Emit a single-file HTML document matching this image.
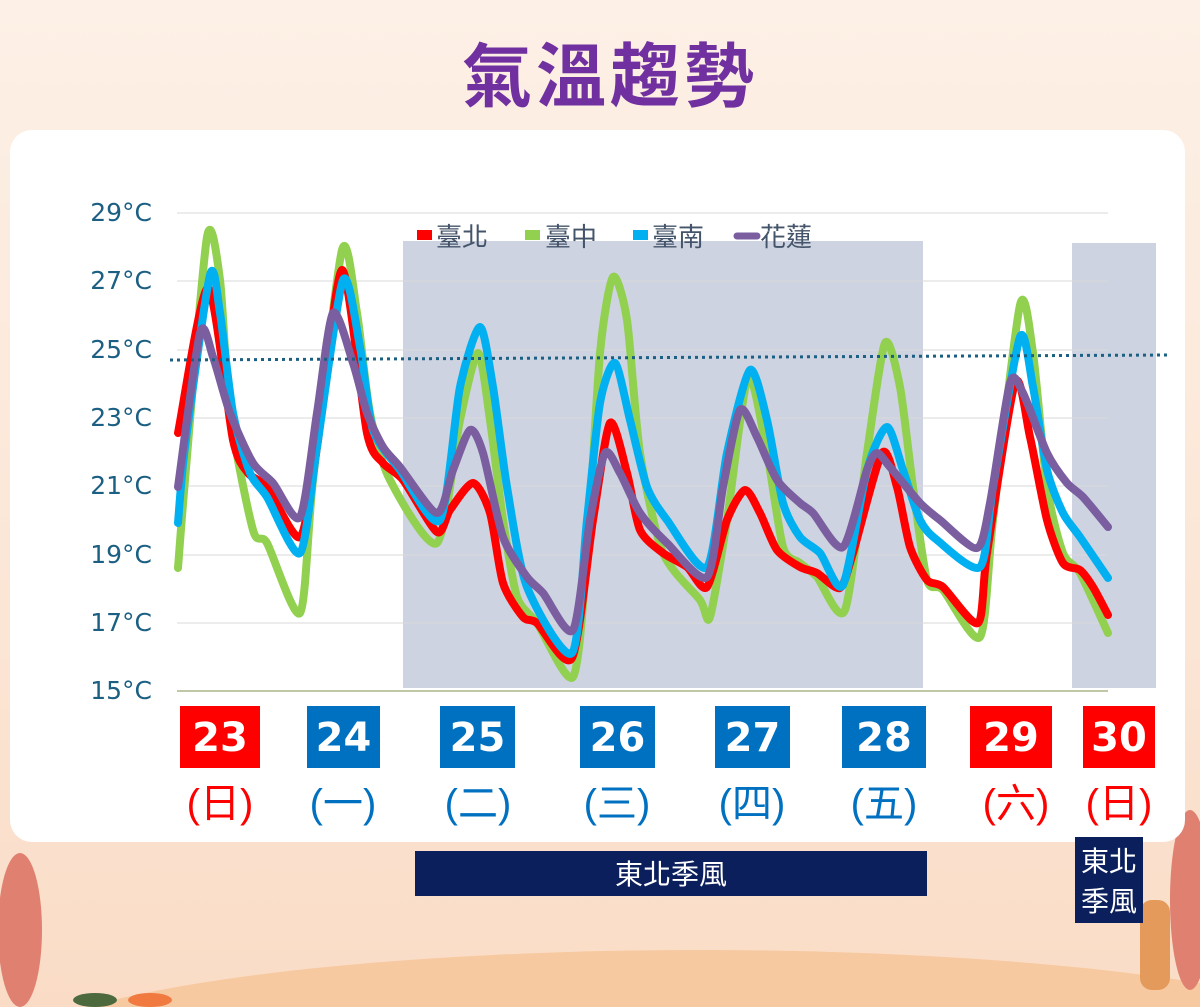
<!DOCTYPE html>
<html><head><meta charset="utf-8">
<style>
html,body{margin:0;padding:0;width:1200px;height:1007px;overflow:hidden}
body{position:relative;font-family:"Liberation Sans","Noto Sans CJK TC",sans-serif;background:linear-gradient(#fdf0e6 0%,#fbe6d6 60%,#fadcc6 100%)}
.card{position:absolute;left:10px;top:130px;width:1175px;height:712px;background:#fff;border-radius:22px}
.title{position:absolute;left:0;width:1220px;top:22px;text-align:center;font-size:70px;font-weight:bold;color:#7030a0;letter-spacing:4px;font-family:"Noto Sans CJK TC",sans-serif;line-height:100px}
.ylab{position:absolute;left:60px;width:92px;text-align:right;font-size:25px;color:#1b5f82;font-family:"DejaVu Sans",sans-serif;line-height:30px}
.day{position:absolute;top:706px;height:62px;color:#fff;font-weight:bold;font-size:40px;text-align:center;line-height:64px;font-family:"DejaVu Sans",sans-serif}
.wd{position:absolute;top:776px;font-size:40px;line-height:56px;text-align:center;font-family:"Liberation Sans","Noto Sans CJK TC",sans-serif}
.r{background:#ff0000}.b{background:#0070c0}
.rc{color:#ff0000}.bc{color:#0070c0}
.mon{position:absolute;background:#0b1f5c;color:#fff;font-size:28px;text-align:center;font-family:"Noto Sans CJK TC",sans-serif;overflow:hidden}
</style></head><body>
<svg width="1200" height="1007" style="position:absolute;left:0;top:0">
<ellipse cx="700" cy="1060" rx="700" ry="110" fill="#f7c9a0"/>
<ellipse cx="20" cy="930" rx="22" ry="77" fill="#e08070"/>
<rect x="1140" y="900" width="30" height="90" rx="12" fill="#e49a5a"/>
<ellipse cx="1190" cy="900" rx="20" ry="90" fill="#e08070"/>
<ellipse cx="95" cy="1000" rx="22" ry="7" fill="#4d6a3e"/>
<ellipse cx="150" cy="1000" rx="22" ry="7" fill="#f07a40"/>
</svg>
<div class="title">氣溫趨勢</div>
<div class="card"></div>
<svg width="1200" height="1007" style="position:absolute;left:0;top:0">
<rect x="403" y="241" width="520" height="447" fill="#cdd3e0"/>
<rect x="1072" y="243" width="84" height="445" fill="#cdd3e0"/>
<g stroke="#d9d9d9" stroke-width="1">
<line x1="177" y1="213" x2="1108" y2="213"/><line x1="177" y1="281" x2="1108" y2="281"/>
<line x1="177" y1="350" x2="1108" y2="350"/><line x1="177" y1="418" x2="1108" y2="418"/>
<line x1="177" y1="486" x2="1108" y2="486"/><line x1="177" y1="555" x2="1108" y2="555"/>
<line x1="177" y1="623" x2="1108" y2="623"/>
</g>
<line x1="177" y1="691" x2="1108" y2="691" stroke="#a9b58a" stroke-width="1.5"/>
<g id="series" fill="none" stroke-width="8" stroke-linejoin="round" stroke-linecap="round"></g>
<line x1="170" y1="360" x2="1167" y2="355" stroke="#1b5f82" stroke-width="3" stroke-dasharray="3,4"/>
<rect x="417" y="230" width="15" height="10" fill="#ff0000"/>
<rect x="525" y="230" width="15" height="10" fill="#92d050"/>
<rect x="633" y="230" width="15" height="10" fill="#00b0f0"/>
<line x1="737" y1="236" x2="757" y2="236" stroke="#7a5ea0" stroke-width="7" stroke-linecap="round"/>
<g font-size="26" fill="#44546a" font-family="Noto Sans CJK TC,sans-serif">
<text x="436" y="246">臺北</text><text x="545" y="246">臺中</text><text x="652" y="246">臺南</text><text x="760" y="246">花蓮</text>
</g>
</svg>
<div class="ylab" style="top:198px">29°C</div>
<div class="ylab" style="top:266px">27°C</div>
<div class="ylab" style="top:335px">25°C</div>
<div class="ylab" style="top:403px">23°C</div>
<div class="ylab" style="top:471px">21°C</div>
<div class="ylab" style="top:540px">19°C</div>
<div class="ylab" style="top:608px">17°C</div>
<div class="ylab" style="top:676px">15°C</div>
<div class="day r" style="left:180px;width:80px">23</div>
<div class="day b" style="left:307px;width:73px">24</div>
<div class="day b" style="left:440px;width:75px">25</div>
<div class="day b" style="left:580px;width:75px">26</div>
<div class="day b" style="left:715px;width:75px">27</div>
<div class="day b" style="left:842px;width:84px">28</div>
<div class="day r" style="left:970px;width:82px">29</div>
<div class="day r" style="left:1083px;width:72px">30</div>
<div class="wd rc" style="left:160px;width:120px">(日)</div>
<div class="wd bc" style="left:283px;width:120px">(一)</div>
<div class="wd bc" style="left:418px;width:120px">(二)</div>
<div class="wd bc" style="left:557px;width:120px">(三)</div>
<div class="wd bc" style="left:692px;width:120px">(四)</div>
<div class="wd bc" style="left:824px;width:120px">(五)</div>
<div class="wd rc" style="left:956px;width:120px">(六)</div>
<div class="wd rc" style="left:1059px;width:120px">(日)</div>
<div class="mon" style="left:415px;top:851px;width:512px;height:45px;line-height:45px">東北季風</div>
<div class="mon" style="left:1075px;top:837px;width:68px;height:86px;line-height:40px;padding-top:3px;box-sizing:border-box">東北<br>季風</div>
<script>
var S=[
["#92d050",[[178,568],[185,480],[207,237],[220,280],[230,413],[253,530],[267,543],[300,613],[313,480],[342,250],[357,313],[370,413],[390,480],[437,543],[460,420],[478,353],[490,420],[503,520],[517,597],[537,623],[573,677],[587,553],[600,353],[613,277],[627,320],[640,453],[663,553],[700,600],[710,617],[727,520],[748,377],[767,453],[783,547],[800,563],[817,577],[845,610],[867,453],[885,343],[900,387],[913,487],[927,580],[943,590],[980,637],[993,520],[1020,305],[1033,353],[1047,487],[1063,553],[1080,573],[1108,633]]],
["#ff0000",[[178,433],[208,288],[233,440],[248,473],[267,487],[300,537],[317,447],[342,270],[367,433],[383,463],[403,480],[437,532],[450,510],[473,483],[490,513],[503,583],[523,617],[537,623],[572,658],[593,520],[610,423],[627,473],[640,530],[663,553],[687,567],[707,587],[727,520],[745,490],[760,513],[777,550],[800,567],[817,573],[840,588],[853,553],[882,453],[897,487],[910,547],[927,580],[943,587],[978,623],[987,553],[1015,383],[1030,437],[1047,520],[1063,563],[1080,570],[1093,587],[1108,615]]],
["#00b0f0",[[178,523],[185,447],[210,275],[220,313],[233,413],[250,473],[267,497],[300,553],[317,447],[343,280],[360,347],[373,430],[400,470],[440,520],[460,387],[480,327],[493,387],[507,487],[527,587],[572,653],[587,520],[600,403],[615,363],[630,420],[647,487],[667,520],[707,567],[727,453],[750,370],[767,420],[783,503],[800,537],[820,553],[843,585],[867,470],[887,427],[903,470],[920,520],[937,540],[980,567],[993,487],[1020,337],[1033,387],[1047,470],[1063,513],[1080,537],[1108,578]]],
["#7a5ea0",[[178,487],[200,333],[213,357],[230,413],[253,463],[273,483],[300,517],[317,413],[333,313],[353,363],[367,413],[383,447],[400,467],[437,513],[453,470],[470,430],[483,453],[503,537],[527,577],[543,593],[573,630],[590,520],[605,453],[620,473],[640,513],[667,543],[707,577],[723,487],[740,410],[757,437],[777,480],[800,503],[813,513],[843,547],[867,470],[877,453],[890,467],[920,503],[940,520],[977,548],[990,503],[1010,383],[1023,393],[1047,453],[1067,483],[1083,497],[1108,527]]]
];
var g=document.getElementById('series');
S.forEach(function(s){var p=s[1],d='M'+p[0][0]+','+p[0][1];
for(var i=0;i<p.length-1;i++){var a=p[Math.max(i-1,0)],b=p[i],c=p[i+1],e=p[Math.min(i+2,p.length-1)];
var k=8;var c1x=b[0]+(c[0]-a[0])/k,c1y=b[1]+(c[1]-a[1])/k,c2x=c[0]-(e[0]-b[0])/k,c2y=c[1]-(e[1]-b[1])/k;
d+=' C'+c1x.toFixed(1)+','+c1y.toFixed(1)+' '+c2x.toFixed(1)+','+c2y.toFixed(1)+' '+c[0]+','+c[1];}
var el=document.createElementNS('http://www.w3.org/2000/svg','path');el.setAttribute('d',d);el.setAttribute('stroke',s[0]);g.appendChild(el);});
</script>
</body></html>
